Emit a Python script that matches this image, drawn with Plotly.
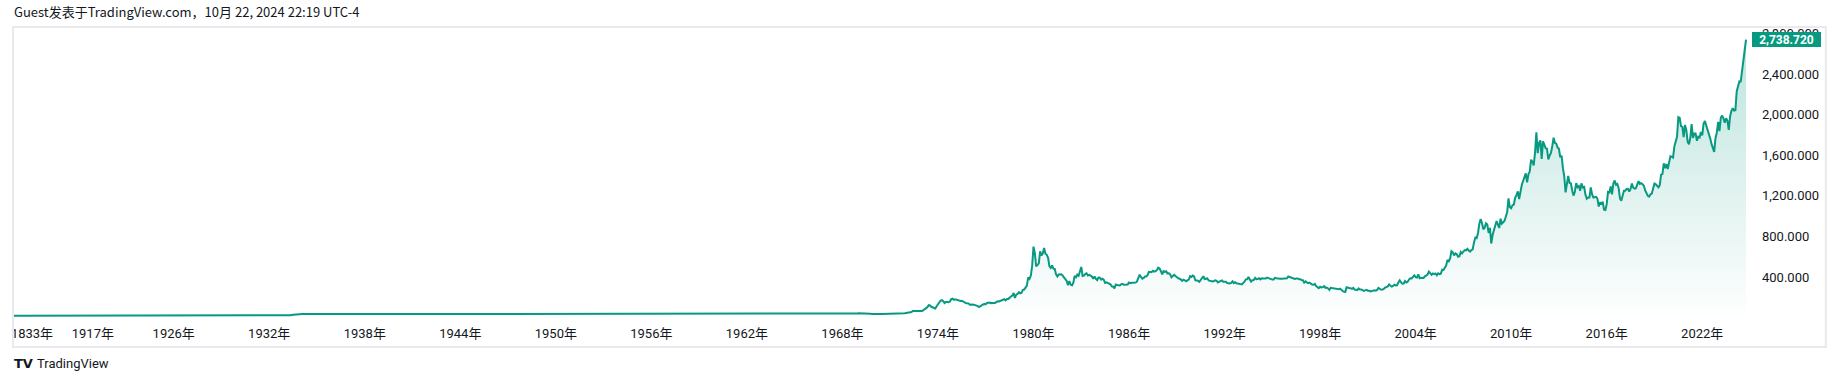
import numpy as np
import pandas as pd
import plotly.graph_objects as go

# ---------------- data ----------------
# sparse early history (fixed official prices), date -> USD/oz
EARLY_DATES = ["1800-01-01", "1834-06-01", "1834-08-01", "1870-01-01", "1900-01-01",
               "1917-01-01", "1926-01-01", "1930-01-01", "1933-03-01", "1933-05-01",
               "1933-07-01", "1933-09-01", "1933-11-01", "1934-01-01", "1934-02-01",
               "1940-01-01", "1945-01-01", "1949-06-01", "1950-06-01", "1952-01-01",
               "1955-01-01", "1960-09-01", "1960-10-01", "1961-03-01", "1965-01-01",
               "1967-12-01"]
EARLY_VALUES = [19.39, 19.39, 20.67, 20.67, 20.67,
                20.67, 20.67, 20.67, 20.67, 24.0,
                29.0, 31.0, 33.0, 34.5, 35.0,
                35.0, 35.0, 35.0, 34.7, 35.0,
                35.0, 35.3, 36.5, 35.4, 35.1,
                35.2]

# monthly closes, each list starts in January of its first year
M1968_START = "1968-01-01"
M1968 = [35.2, 35.2, 38.0, 39.0, 41.0, 41.1, 40.0, 39.3, 40.0, 39.4, 40.6, 41.9,
         42.4, 42.7, 43.0, 43.3, 43.3, 41.4, 41.4, 40.8, 40.8, 39.5, 36.3, 35.2,
         34.9, 35.0, 35.3, 35.6, 35.9, 35.4, 35.3, 35.4, 36.2, 37.5, 37.4, 37.4,
         38.0, 38.8, 38.9, 39.0, 40.5, 40.1, 41.0, 42.7, 42.6, 42.5, 43.0, 43.6,
         46.0, 48.3, 48.3, 49.0, 54.6, 65.1, 65.7, 67.0, 65.0, 64.9, 62.9, 64.9,
         66.0, 74.2, 84.5, 90.5, 102.0, 123.3, 120.0, 106.8, 103.0, 100.1, 90.0, 112.3,
         129.0, 150.0, 168.4, 172.0, 163.0, 143.0, 154.0, 154.0, 151.0, 158.0, 182.0, 186.5,
         175.0, 180.0, 177.0, 167.0, 167.0, 165.0, 167.0, 159.0, 143.0, 143.0, 141.0, 140.3,
         128.0, 132.0, 129.0, 128.0, 125.0, 123.0, 113.0, 104.0, 116.0, 123.0, 130.0, 134.5,
         132.0, 145.0, 149.0, 148.0, 143.0, 141.0, 145.0, 145.0, 154.0, 162.0, 160.0, 164.9,
         175.0, 182.0, 181.0, 170.0, 184.0, 183.0, 200.0, 208.0, 217.0, 242.0, 194.0, 226.0,
         233.0, 251.0, 240.0, 245.0, 274.0, 277.0, 296.0, 315.0, 397.0, 382.0, 415.0, 512.0]

M1980_START = "1980-01-01"
M1980 = [700, 637, 505, 518, 535, 653, 614, 632, 686, 629, 619, 590,
         506, 489, 514, 482, 480, 426, 406, 425, 428, 427, 414, 397,
         387, 362, 320, 361, 325, 317, 342, 411, 397, 423, 412, 448,
         499, 410, 414, 429, 437, 416, 422, 414, 405, 382, 405, 382,
         370, 395, 394, 375, 384, 373, 342, 348, 342, 334, 329, 309,
         306, 288, 326, 322, 316, 317, 327, 333, 325, 326, 325, 327,
         345, 339, 344, 346, 343, 345, 357, 385, 423, 401, 383, 391,
         405, 405, 421, 452, 451, 448, 462, 453, 459, 468, 492, 484,
         458, 426, 457, 450, 456, 436, 437, 427, 397, 413, 422, 410,
         394, 388, 383, 377, 362, 373, 368, 359, 367, 375, 408, 401]

M1990_START = "1990-01-01"
M1990 = [415, 407, 368, 367, 363, 352, 372, 387, 408, 380, 384, 386,
         366, 362, 355, 357, 361, 368, 362, 347, 354, 357, 366, 353,
         354, 353, 341, 337, 337, 343, 357, 340, 349, 339, 334, 333,
         330, 327, 337, 354, 377, 378, 401, 371, 355, 369, 371, 391,
         378, 381, 389, 377, 387, 385, 384, 385, 394, 389, 383, 383,
         375, 376, 392, 389, 385, 387, 383, 382, 384, 382, 387, 387,
         405, 400, 396, 393, 391, 382, 385, 386, 379, 379, 371, 369,
         345, 358, 348, 340, 345, 334, 326, 324, 332, 311, 296, 290,
         304, 297, 301, 310, 293, 296, 288, 273, 294, 292, 294, 288,
         287, 287, 279, 286, 268, 262, 255, 254, 299, 299, 292, 290]

M2000_START = "2000-01-01"
M2000 = [283, 293, 276, 275, 272, 288, 277, 278, 273, 264, 269, 274,
         266, 266, 258, 263, 268, 270, 266, 273, 293, 279, 275, 277,
         282, 297, 301, 308, 326, 318, 305, 312, 324, 317, 319, 347,
         367, 347, 334, 336, 361, 346, 354, 375, 388, 386, 398, 416,
         399, 395, 427, 388, 393, 395, 391, 407, 415, 425, 453, 438,
         422, 435, 428, 435, 417, 437, 429, 433, 473, 470, 496, 513,
         569, 556, 582, 654, 643, 614, 633, 624, 599, 604, 646, 632,
         651, 665, 662, 678, 660, 650, 665, 673, 743, 789, 783, 834,
         923, 971, 933, 871, 885, 930, 918, 834, 884, 730, 814, 870,
         920, 952, 916, 883, 975, 926, 939, 955, 996, 1040, 1175, 1087]

M2010_START = "2010-01-01"
M2010 = [1078, 1108, 1113, 1180, 1207, 1244, 1169, 1246, 1307, 1346, 1386, 1421,
         1332, 1411, 1439, 1556, 1536, 1500, 1628, 1826, 1620, 1722, 1746, 1564,
         1737, 1711, 1669, 1664, 1559, 1598, 1622, 1691, 1773, 1720, 1713, 1675,
         1663, 1580, 1596, 1472, 1393, 1234, 1313, 1396, 1327, 1323, 1253, 1202,
         1240, 1326, 1284, 1296, 1250, 1322, 1282, 1287, 1210, 1171, 1183, 1183,
         1283, 1213, 1183, 1183, 1190, 1172, 1095, 1135, 1115, 1142, 1064, 1061,
         1118, 1238, 1233, 1293, 1215, 1321, 1351, 1309, 1316, 1277, 1174, 1152,
         1211, 1249, 1249, 1268, 1269, 1242, 1269, 1322, 1280, 1270, 1275, 1303,
         1345, 1318, 1325, 1315, 1299, 1253, 1224, 1201, 1192, 1215, 1222, 1282,
         1321, 1313, 1292, 1284, 1305, 1409, 1414, 1520, 1472, 1513, 1463, 1517]

M2020_START = "2020-01-01"
M2020 = [1589, 1585, 1577, 1686, 1730, 1781, 1975, 1968, 1886, 1879, 1777, 1898,
         1848, 1734, 1708, 1769, 1907, 1770, 1814, 1814, 1743, 1783, 1775, 1829,
         1796, 1909, 1937, 1897, 1837, 1807, 1766, 1711, 1660, 1633, 1768, 1824,
         1928, 1837, 1969, 1990, 1963, 1919, 1965, 1940, 1849, 1983, 2036, 2063,
         2040, 2044, 2230, 2286, 2327, 2326, 2447, 2503, 2634, 2738.72]

LAST_PRICE = 2738.72
X_TICK_YEARS = [1833, 1917, 1926, 1932, 1938, 1944, 1950, 1956, 1962, 1968,
                1974, 1980, 1986, 1992, 1998, 2004, 2010, 2016, 2022]
X_TICK_TEXT = [f"{y}年" for y in X_TICK_YEARS]
Y_TICKS = [400, 800, 1200, 1600, 2000, 2400, 2800]

HEADER = "Guest发表于TradingView.com，10月 22, 2024 22:19 UTC-4"

# ---------------- time scale (bar-index style, early history compressed) ----------------
SCALE_YEARS = [1800.0, 1833.0, 1917.0, 1926.0, 2100.0]
SCALE_POS = [1915.60, 1917.10, 1920.92, 1926.0, 2100.0]


def frac_year(d):
    d = pd.to_datetime(d)
    return d.year + (d.month - 1) / 12.0 + (d.day - 1) / 365.0


def pos(years):
    return np.interp(np.asarray(years, dtype=float), SCALE_YEARS, SCALE_POS)


dates = list(pd.to_datetime(EARLY_DATES))
vals = list(EARLY_VALUES)
for start, arr in [(M1968_START, M1968), (M1980_START, M1980), (M1990_START, M1990),
                   (M2000_START, M2000), (M2010_START, M2010), (M2020_START, M2020)]:
    dates += list(pd.date_range(start, periods=len(arr), freq="MS"))
    vals += list(arr)

xs = pos([frac_year(d) for d in dates])
ys = np.array(vals, dtype=float)

# ---------------- layout geometry ----------------
W, H = 1836, 382
L, R, T, B = 11, 86, 27, 60
PW, PH = W - L - R, H - T - B
X_MIN, X_MAX = 1915.97, 2025.0
Y_MIN, Y_MAX = -43.0, 2863.0
GREEN = "#089981"
TXT = "#131722"
FONT = "Roboto, Noto Sans CJK SC, sans-serif"


def px_x(p):
    return (p - L) / PW


def px_y(p):
    return (H - B - p) / PH


fig = go.Figure()
fig.add_trace(go.Scatter(
    x=xs, y=ys, mode="lines",
    line=dict(color=GREEN, width=2),
    fill="tozeroy",
    fillgradient=dict(type="vertical",
                      colorscale=[[0, "rgba(8,153,129,0.0)"], [1, "rgba(8,153,129,0.28)"]],
                      start=Y_MIN, stop=Y_MAX),
    hoverinfo="skip",
))

fig.update_layout(
    width=W, height=H,
    margin=dict(l=L, r=R, t=T, b=B, pad=0),
    paper_bgcolor="white", plot_bgcolor="rgba(0,0,0,0)",
    showlegend=False,
    xaxis=dict(range=[X_MIN, X_MAX], tickmode="array",
               tickvals=list(pos(X_TICK_YEARS)), ticktext=X_TICK_TEXT,
               showgrid=False, zeroline=False, showline=False, ticks="",
               ticklabelstandoff=2,
               tickfont=dict(family=FONT, size=13, color=TXT), fixedrange=True),
    yaxis=dict(side="right", range=[Y_MIN, Y_MAX], tickmode="array",
               tickvals=Y_TICKS, tickformat=",.3f",
               showgrid=False, zeroline=False, showline=False, ticks="",
               ticklabelstandoff=11,
               tickfont=dict(family=FONT, size=13, color=TXT), fixedrange=True),
    shapes=[dict(type="rect", xref="paper", yref="paper",
                 x0=px_x(10), x1=px_x(1826), y0=px_y(347), y1=px_y(27),
                 line=dict(color="#E9E9EE", width=2), fillcolor="rgba(0,0,0,0)",
                 layer="above")],
    annotations=[
        dict(text=HEADER, xref="paper", yref="paper", x=px_x(9), y=px_y(12),
             xanchor="left", yanchor="middle", showarrow=False,
             font=dict(family="Noto Sans CJK SC, sans-serif", size=13, color=TXT)),
        dict(text="<b>TV</b>", xref="paper", yref="paper", x=px_x(9), y=px_y(363),
             xanchor="left", yanchor="middle", showarrow=False,
             font=dict(family="DejaVu Sans, sans-serif", size=13, color=TXT)),
        dict(text="TradingView", xref="paper", yref="paper", x=px_x(32), y=px_y(363),
             xanchor="left", yanchor="middle", showarrow=False,
             font=dict(family=FONT, size=13, color=TXT)),
        dict(text=f"<b>{LAST_PRICE:,.3f}</b>", xref="paper", yref="y", x=1, xshift=2,
             y=LAST_PRICE, xanchor="left", yanchor="middle", showarrow=False,
             font=dict(family=FONT, size=12, color="white"),
             bgcolor=GREEN, bordercolor=GREEN, borderwidth=1, borderpad=0,
             width=67, height=13),
    ],
)

fig.write_html("out.html")
